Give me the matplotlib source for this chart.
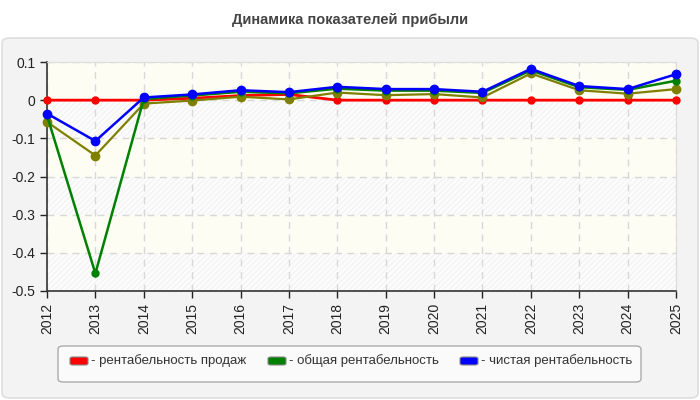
import matplotlib.pyplot as plt
from matplotlib.patches import FancyBboxPatch, Rectangle

plt.rcParams['font.family'] = ['Liberation Sans', 'DejaVu Sans']
plt.rcParams['hatch.linewidth'] = 0.6

years = list(range(2012, 2026))

sales = [0, 0, 0, 0.005, 0.012, 0.015, 0, 0, 0, 0, 0, 0, 0, 0]
total = [-0.04, -0.454, 0.003, 0.012, 0.022, 0.018, 0.03, 0.025, 0.025, 0.019, 0.078, 0.034, 0.027, 0.051]
net = [-0.035, -0.107, 0.007, 0.015, 0.026, 0.021, 0.035, 0.029, 0.029, 0.022, 0.082, 0.037, 0.029, 0.068]
other = [-0.057, -0.145, -0.009, -0.001, 0.009, 0.002, 0.02, 0.013, 0.016, 0.007, 0.07, 0.026, 0.017, 0.029]

labels = ['- рентабельность продаж', '- общая рентабельность', '- чистая рентабельность']

W, H = 700, 400
fig = plt.figure(figsize=(7, 4), dpi=100)
fig.patch.set_facecolor('white')

# outer rounded panel
panel = FancyBboxPatch((2 / W, 2 / H), 696 / W, 360 / H,
                       boxstyle='round,pad=0,rounding_size=0.012',
                       transform=fig.transFigure, facecolor='#f3f3f3',
                       edgecolor='#dedede', linewidth=1.2, zorder=-10)
fig.patches.append(panel)

fig.text(0.5, 1 - 20 / H, 'Динамика показателей прибыли', ha='center', va='center',
         fontsize=10.5, fontweight='bold', color='#444444')

ax = fig.add_axes([47 / W, 1 - 291 / H, (676 - 47) / W, (291 - 62) / H])
ax.set_zorder(5)
ax.set_facecolor('#fdfdf4')
ax.set_xlim(2012, 2025)
ax.set_ylim(-0.5, 0.1)

# alternating faint hatched bands
bands = [-0.5, -0.4, -0.3, -0.2, -0.1, 0.0, 0.1]
for i in range(len(bands) - 1):
    if i % 2 == 0:
        ax.add_patch(Rectangle((2012, bands[i]), 13, 0.1, facecolor='#fcfcfc',
                               edgecolor='#efefef', hatch='//////', linewidth=0, zorder=0))

ax.grid(True, color='#d8d8d8', linestyle=(0, (5, 4)), linewidth=1)
ax.set_axisbelow(True)

ax.plot(years, sales, color='#ff0000', marker='o', markersize=5, linewidth=2, zorder=3, clip_on=False)
ax.plot(years, other, color='#808000', marker='o', markersize=6, linewidth=1.6, zorder=4, clip_on=False)
ax.plot(years, total, color='#008000', marker='o', markersize=5, linewidth=1.8, zorder=5, clip_on=False)
ax.plot(years, net, color='#0000ff', marker='o', markersize=6, linewidth=1.8, zorder=6, clip_on=False)

ax.set_xticks(years)
ax.set_xticklabels([str(y) for y in years], rotation=90)
ax.set_yticks([0.1, 0, -0.1, -0.2, -0.3, -0.4, -0.5])
ax.set_yticklabels(['0.1', '0', '-0.1', '-0.2', '-0.3', '-0.4', '-0.5'])
ax.tick_params(axis='both', labelsize=10, colors='#222222', length=5, width=1)

for s in ['top', 'right']:
    ax.spines[s].set_color('#dddddd')
for s in ['left', 'bottom']:
    ax.spines[s].set_color('#333333')
    ax.spines[s].set_linewidth(1.2)

# legend box
lx0, ly0, lx1, ly1 = 58, 346, 641, 382
lbox = FancyBboxPatch((lx0 / W, 1 - ly1 / H), (lx1 - lx0) / W, (ly1 - ly0) / H,
                      boxstyle='round,pad=0,rounding_size=0.008',
                      transform=fig.transFigure, facecolor='#fafafa',
                      edgecolor='#aaaaaa', linewidth=1)
fig.patches.append(lbox)

colors = ['#ff0000', '#008000', '#0000ff']
swatch_x = [70, 268, 460]
for x, c, t in zip(swatch_x, colors, labels):
    sw = FancyBboxPatch((x / W, 1 - 365 / H), 18 / W, 8 / H,
                        boxstyle='round,pad=0,rounding_size=0.004',
                        transform=fig.transFigure, facecolor=c,
                        edgecolor='#888888', linewidth=0.8)
    fig.patches.append(sw)
    fig.text((x + 21) / W, 1 - 361 / H, t, ha='left', va='center',
             fontsize=9.5, color='#333333')

fig.savefig('out.png', dpi=100)
